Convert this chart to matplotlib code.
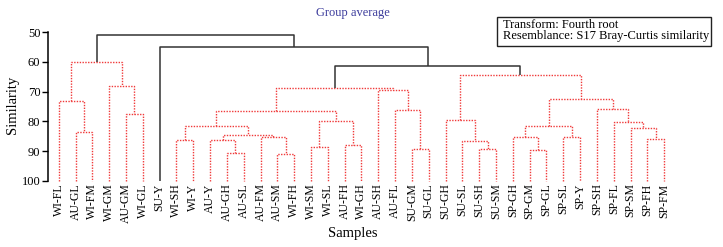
import matplotlib
matplotlib.use("Agg")
import matplotlib.pyplot as plt
from matplotlib.patches import Rectangle

plt.rcParams['font.family'] = ['Liberation Serif', 'DejaVu Serif']

# leaf order as drawn on the x axis
samples = ['WI-FL', 'AU-GL', 'WI-FM', 'WI-GM', 'AU-GM', 'WI-GL', 'SU-Y',
           'WI-SH', 'WI-Y', 'AU-Y', 'AU-GH', 'AU-SL', 'AU-FM', 'AU-SM', 'WI-FH',
           'WI-SM', 'WI-SL', 'AU-FH', 'WI-GH', 'AU-SH', 'AU-FL', 'SU-GM', 'SU-GL',
           'SU-GH', 'SU-SL', 'SU-SH', 'SU-SM', 'SP-GH', 'SP-GM', 'SP-GL', 'SP-SL',
           'SP-Y', 'SP-SH', 'SP-FL', 'SP-SM', 'SP-FH', 'SP-FM']

# merges: (left, right, similarity); a string is a sample, an int is an earlier merge
merges = [
    ('AU-GL', 'WI-FM', 83.6),   # 0
    ('WI-FL', 0, 73.3),         # 1
    ('AU-GM', 'WI-GL', 77.6),   # 2
    ('WI-GM', 2, 68.0),         # 3
    (1, 3, 60.1),               # 4
    ('WI-SH', 'WI-Y', 86.4),    # 5
    ('AU-GH', 'AU-SL', 90.8),   # 6
    ('AU-Y', 6, 86.4),          # 7
    ('AU-SM', 'WI-FH', 90.9),   # 8
    ('AU-FM', 8, 85.2),         # 9
    (7, 9, 84.7),               # 10
    (5, 10, 81.6),              # 11
    ('WI-SM', 'WI-SL', 88.6),   # 12
    ('AU-FH', 'WI-GH', 88.1),   # 13
    (12, 13, 79.9),             # 14
    (11, 14, 76.5),             # 15
    ('SU-GM', 'SU-GL', 89.4),   # 16
    ('AU-FL', 16, 76.3),        # 17
    ('AU-SH', 17, 69.4),        # 18
    (15, 18, 68.9),             # 19
    ('SU-SH', 'SU-SM', 89.2),   # 20
    ('SU-SL', 20, 86.6),        # 21
    ('SU-GH', 21, 79.6),        # 22
    ('SP-GM', 'SP-GL', 89.6),   # 23
    ('SP-GH', 23, 85.3),        # 24
    ('SP-SL', 'SP-Y', 85.3),    # 25
    (24, 25, 81.6),             # 26
    ('SP-FH', 'SP-FM', 86.0),   # 27
    ('SP-SM', 27, 82.2),        # 28
    ('SP-FL', 28, 80.3),        # 29
    ('SP-SH', 29, 75.7),        # 30
    (26, 30, 72.4),             # 31
    (22, 31, 64.5),             # 32
    (19, 32, 61.3),             # 33
    ('SU-Y', 33, 54.9),         # 34
    (4, 34, 50.9),              # 35
]

# merges with significant structure (solid black); the rest are dotted red
significant = [33, 34, 35]

yticks = [50, 60, 70, 80, 90, 100]

fig = plt.figure(figsize=(7.23, 2.47), dpi=100)
W, H = 723, 247
ax = fig.add_axes([48 / W, 1 - 180.7 / H, (713 - 48) / W, (180.7 - 32.3) / H])

node_x = {}
node_h = {}


def pos(node):
    if isinstance(node, str):
        return samples.index(node), 100.0
    return node_x[node], node_h[node]


for i, (a, b, sim) in enumerate(merges):
    xa, ha = pos(a)
    xb, hb = pos(b)
    node_x[i] = (xa + xb) / 2
    node_h[i] = sim
    if i in significant:
        ax.plot([xa, xa, xb, xb], [ha, sim, sim, hb], color='#333333', lw=1.1,
                solid_capstyle='butt', clip_on=False, zorder=3)
    else:
        ax.plot([xa, xa, xb, xb], [ha, sim, sim, hb], color='#f03a3a', lw=1.0,
                linestyle=(0, (1, 1)), clip_on=False, zorder=2)

unit = 16.82
left = -(58.7 - 48) / unit
ax.set_xlim(left, left + (713 - 48) / unit)
ax.set_ylim(100, 50)

ax.set_yticks(yticks)
ax.set_yticklabels([str(v) for v in yticks], fontsize=9)
ax.tick_params(axis='y', length=4, width=1, pad=1.5, direction='out')
ax.set_xticks(range(len(samples)))
ax.set_xticklabels(samples, rotation=90, fontsize=8.5)
ax.tick_params(axis='x', length=0, pad=2)

for s in ['top', 'right', 'bottom']:
    ax.spines[s].set_visible(False)
ax.spines['left'].set_linewidth(1.1)

fig.text(13 / W, 1 - 105 / H, 'Similarity', rotation=90, ha='center', va='center', fontsize=10.5)
fig.text(353 / W, 1 - 233 / H, 'Samples', ha='center', va='center', fontsize=10.5)
fig.text(353 / W, 1 - 13.3 / H, 'Group average', ha='center', va='center', fontsize=9,
         color='#3c3c9c')

# info box
fig.patches.append(Rectangle((497 / W, 1 - 46 / H), (711 - 497) / W, (46 - 17) / H,
                             transform=fig.transFigure, fill=False, edgecolor='#222222',
                             lw=1.0))
fig.text(503 / W, 1 - 25 / H, 'Transform: Fourth root', ha='left', va='center', fontsize=9)
fig.text(503 / W, 1 - 36.5 / H, 'Resemblance: S17 Bray-Curtis similarity', ha='left',
         va='center', fontsize=9)

fig.savefig('out.png', dpi=100)
